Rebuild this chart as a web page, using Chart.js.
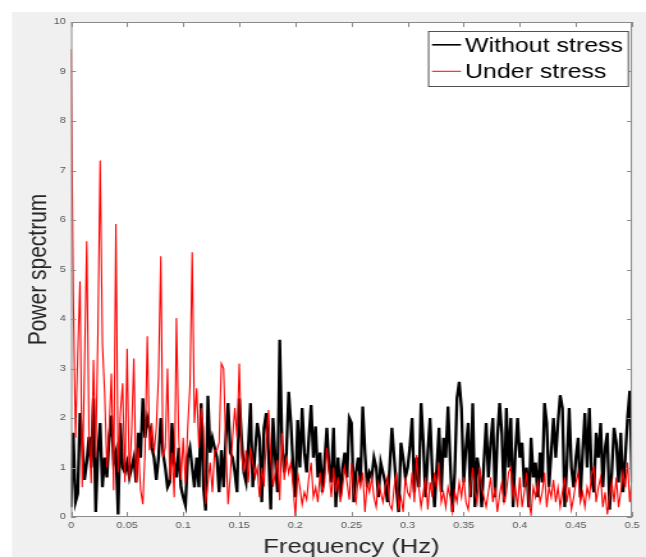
<!DOCTYPE html>
<html><head><meta charset="utf-8">
<script src="https://cdn.jsdelivr.net/npm/chart.js@4/dist/chart.umd.min.js"></script>
<style>
html,body{margin:0;padding:0;background:#fff;overflow:hidden;width:646px;height:557px;}
#wrap{position:absolute;left:0;top:0;width:505px;height:557px;transform:scaleX(1.2792);transform-origin:0 0;}
canvas{display:block;}
</style></head><body>
<div id="wrap"><canvas id="c" width="505" height="557"></canvas></div>
<script>
// ---- data ----
const STEP = 0.002; // Hz between samples
const seriesNames = ['Without stress', 'Under stress'];
const withoutStress = [
  0.2, 1.7, 0.3, 0.47, 2.1, 1.5, 0.75, 1.1, 1.62, 1.0,
  2.4, 0.1, 1.3, 1.9, 0.6, 1.2, 0.8, 1.6, 2.05, 1.1,
  1.3, 0.05, 1.9, 1.0, 0.9, 1.1, 0.8, 1.0, 1.2, 0.7,
  1.7, 1.2, 2.4, 1.6, 2.0, 1.8, 1.4, 1.2, 0.75, 1.2,
  2.0, 1.3, 1.0, 0.6, 0.7, 1.9, 1.1, 0.8, 1.4, 0.6,
  0.4, 0.24, 1.2, 1.4, 1.0, 0.6, 1.2, 0.6, 2.3, 0.6,
  0.13, 2.45, 1.3, 1.6, 1.4, 1.2, 0.5, 1.35, 0.6, 1.6,
  2.3, 1.3, 1.2, 0.9, 0.5, 2.4, 1.6, 0.9, 0.7, 1.4,
  2.3, 0.6, 1.3, 1.9, 1.6, 0.3, 1.8, 2.1, 1.3, 0.15,
  2.0, 1.2, 0.5, 3.58, 1.5, 0.9, 1.3, 2.53, 1.9, 1.0,
  0.4, 1.96, 1.0, 2.2, 1.3, 0.9, 1.6, 2.26, 1.2, 1.83,
  0.8, 1.3, 0.5, 1.1, 1.8, 1.0, 0.7, 1.8, 0.2, 1.2,
  0.4, 1.0, 1.3, 0.8, 2.0, 1.9, 0.3, 0.9, 1.2, 0.7,
  2.23, 1.3, 0.6, 0.9, 0.8, 1.2, 1.0, 0.4, 1.1, 0.9,
  0.7, 0.3, 1.0, 1.8, 1.2, 0.6, 0.1, 1.5, 1.2, 0.8,
  1.0, 1.4, 2.0, 0.5, 1.2, 0.6, 2.3, 1.5, 0.4, 1.3,
  2.0, 0.9, 0.2, 1.0, 1.8, 0.5, 1.6, 1.2, 2.23, 1.1,
  0.1, 0.9, 2.4, 2.73, 2.2, 0.7, 1.4, 1.9, 0.4, 2.3,
  0.2, 1.2, 0.9, 0.2, 1.1, 1.9, 0.8, 1.5, 2.0, 0.4,
  1.6, 2.3, 1.7, 0.3, 2.2, 1.0, 2.0, 0.2, 1.3, 2.0,
  1.2, 1.5, 0.6, 1.0, 0.2, 1.6, 0.8, 1.1, 0.4, 1.3,
  0.7, 2.3, 1.9, 0.6, 1.3, 2.0, 1.2, 1.9, 2.46, 2.2,
  0.2, 1.1, 2.2, 1.0, 0.6, 1.2, 1.6, 0.4, 1.3, 2.1,
  1.0, 2.2, 0.8, 0.5, 1.7, 1.2, 1.9, 0.6, 1.4, 1.7,
  0.15, 0.9, 1.8, 1.5, 0.7, 1.7, 0.5, 1.2, 2.0, 2.55, 0.7
];
const underStress = [
  9.45, 4.5, 1.6, 3.3, 4.76, 0.6, 3.0, 5.57, 1.7, 0.68,
  3.17, 1.2, 3.74, 7.2, 3.5, 2.5, 1.0, 1.76, 2.9, 0.54,
  5.92, 0.9, 2.1, 2.7, 0.7, 3.4, 0.75, 1.7, 3.2, 0.7,
  1.4, 0.55, 0.26, 1.35, 3.65, 1.35, 1.9, 1.3, 1.8, 2.87,
  5.27, 1.2, 1.4, 3.0, 0.75, 1.3, 0.4, 4.02, 1.6, 0.75,
  1.6, 0.68, 1.8, 2.63, 5.35, 1.9, 2.6, 1.4, 2.2, 1.8,
  0.26, 0.7, 1.1, 0.5, 1.35, 1.35, 1.5, 3.1, 3.0, 1.4,
  0.26, 0.85, 1.6, 2.2, 1.6, 3.1, 1.3, 0.9, 1.35, 0.7,
  1.4, 1.1, 0.8, 1.0, 0.4, 1.0, 0.61, 1.55, 2.16, 1.22,
  0.61, 0.88, 1.15, 0.34, 1.69, 0.75, 1.22, 0.88, 1.1, 0.6,
  0.0, 0.9, 0.6, 0.25, 0.5, 0.35, 0.8, 1.1, 0.4, 0.6,
  0.3, 0.9, 0.5, 0.7, 1.4, 0.9, 0.4, 1.0, 0.5, 0.8,
  0.3, 0.6, 1.0, 0.7, 0.35, 1.1, 0.5, 0.3, 0.8, 0.6,
  0.9, 0.1, 0.7, 0.5, 0.8, 0.4, 0.2, 0.7, 0.5, 0.3,
  0.6, 0.8, 0.25, 0.15, 0.6, 0.9, 0.2, 0.4, 0.1, 0.8,
  0.5, 0.4, 0.9, 0.3, 1.25, 0.6, 0.2, 0.5, 0.8, 0.15,
  0.7, 0.4, 0.9, 0.6, 1.1, 0.3, 0.5, 0.2, 0.6, 0.4,
  0.1, 0.5, 0.3, 0.7, 0.4, 0.8, 0.3, 0.15, 0.6, 1.0,
  0.5, 0.3, 1.0, 0.6, 0.4, 0.2, 0.5, 0.8, 0.3, 0.6,
  0.1, 0.45, 0.7, 0.3, 0.5, 0.9, 1.0, 0.4, 0.6, 0.2,
  0.8, 0.2, 0.5, 0.9, 0.3, 0.05, 0.6, 0.4, 0.7, 0.3,
  0.5, 0.9, 0.2, 0.6, 0.4, 0.75, 0.3, 0.6, 0.2, 0.5,
  0.8, 0.3, 0.6, 0.15, 0.4, 0.7, 0.9, 0.3, 0.5, 0.2,
  0.6, 0.4, 0.9, 1.0, 0.3, 0.6, 0.8, 0.2, 0.5, 0.05,
  0.4, 0.7, 0.3, 0.8, 0.2, 0.5, 0.9, 0.6, 1.1, 0.3, 0.8
];
const frequencies = withoutStress.map((_, i) => +(i * STEP).toFixed(3));
const xTickLabels = ['0', '0.05', '0.1', '0.15', '0.2', '0.25', '0.3', '0.35', '0.4', '0.45', '0.5'];
const yTickLabels = ['0', '1', '2', '3', '4', '5', '6', '7', '8', '9', '10'];

// ---- layout ----
const SX = 1.2792;           // horizontal stretch of the reference figure
const W = 505, H = 557;
const FONT = "'Liberation Sans', Arial, sans-serif";

const toPts = arr => arr.map((v, i) => ({x: frequencies[i], y: v}));

const framePlugin = {
  id: 'frame',
  beforeDraw(chart) {
    const {ctx, chartArea: a} = chart;
    ctx.save();
    ctx.fillStyle = '#ffffff';
    ctx.fillRect(0, 0, W, H);
    ctx.fillStyle = '#f0f0f0';
    ctx.fillRect(12 / SX, 12, W, H);
    ctx.fillStyle = '#ffffff';
    ctx.fillRect(a.left, a.top, a.right - a.left, a.bottom - a.top);
    ctx.restore();
  },
  afterDraw(chart) {
    const {ctx, chartArea: a, scales} = chart;
    ctx.save();
    ctx.strokeStyle = '#8a8a8a';
    ctx.lineWidth = 1;
    ctx.strokeRect(a.left + 0.5, a.top + 0.5, a.right - a.left - 1, a.bottom - a.top - 1);
    ctx.beginPath();
    xTickLabels.forEach(l => {
      const px = Math.round(scales.x.getPixelForValue(parseFloat(l))) + 0.5;
      ctx.moveTo(px, a.bottom); ctx.lineTo(px, a.bottom - 5);
      ctx.moveTo(px, a.top); ctx.lineTo(px, a.top + 5);
    });
    yTickLabels.forEach(l => {
      const py = Math.round(scales.y.getPixelForValue(parseFloat(l))) + 0.5;
      ctx.moveTo(a.left, py); ctx.lineTo(a.left + 5 / SX, py);
      ctx.moveTo(a.right, py); ctx.lineTo(a.right - 5 / SX, py);
    });
    ctx.stroke();

    // legend box
    const lx0 = 428 / SX, lx1 = 629 / SX, ly0 = 31, ly1 = 87;
    ctx.fillStyle = '#ffffff';
    ctx.fillRect(lx0, ly0, lx1 - lx0, ly1 - ly0);
    ctx.strokeStyle = '#505050';
    ctx.strokeRect(lx0 + 0.5, ly0 + 0.5, lx1 - lx0 - 1, ly1 - ly0 - 1);
    const rows = [
      {text: seriesNames[0], color: chart.data.datasets[0].borderColor, lw: 1.6, y: 44.8, base: 51.7},
      {text: seriesNames[1], color: chart.data.datasets[1].borderColor, lw: 1.0, y: 71.3, base: 78}
    ];
    ctx.font = `19.5px ${FONT}`;
    ctx.textBaseline = 'alphabetic';
    ctx.textAlign = 'left';
    rows.forEach(r => {
      ctx.strokeStyle = r.color;
      ctx.lineWidth = r.lw;
      ctx.beginPath();
      ctx.moveTo(432 / SX, r.y); ctx.lineTo(461 / SX, r.y);
      ctx.stroke();
      ctx.fillStyle = '#000000';
      ctx.fillText(r.text, 465 / SX, r.base);
    });
    ctx.restore();
  }
};

new Chart(document.getElementById('c'), {
  type: 'line',
  data: {
    datasets: [
      {label: seriesNames[0], data: toPts(withoutStress), borderColor: '#000000', borderWidth: 2.3,
       pointRadius: 0, tension: 0, fill: false, order: 2},
      {label: seriesNames[1], data: toPts(underStress), borderColor: '#ff0000', borderWidth: 1.1,
       pointRadius: 0, tension: 0, fill: false, order: 1}
    ]
  },
  options: {
    responsive: false,
    animation: false,
    devicePixelRatio: 1,
    layout: {padding: {top: 22, right: W - 632 / SX, left: 0, bottom: 0}},
    plugins: {legend: {display: false}, tooltip: {enabled: false}},
    scales: {
      x: {
        type: 'linear', min: 0, max: 0.5,
        afterFit(s) { s.height = 40; },
        afterBuildTicks(s) { s.ticks = xTickLabels.map(l => ({value: parseFloat(l)})); },
        ticks: {autoSkip: false, maxRotation: 0, padding: 4, color: '#555555',
                font: {family: FONT, size: 8.5}, callback: (v, i) => xTickLabels[i]},
        grid: {display: false, drawTicks: false},
        border: {display: false},
        title: {display: true, text: 'Frequency (Hz)', color: '#262626',
                font: {family: FONT, size: 20, lineHeight: 1}, padding: {top: 0, bottom: 0}}
      },
      y: {
        min: 0, max: 10,
        afterFit(s) { s.width = 71 / SX; },
        afterBuildTicks(s) { s.ticks = yTickLabels.map(l => ({value: parseFloat(l)})); },
        ticks: {autoSkip: false, padding: 4, color: '#555555',
                font: {family: FONT, size: 8.5}, callback: (v, i) => yTickLabels[i]},
        grid: {display: false, drawTicks: false},
        border: {display: false},
        title: {display: true, text: 'Power spectrum', color: '#262626',
                font: {family: FONT, size: 21, lineHeight: 1}, padding: {top: 19.5, bottom: 0}}
      }
    }
  },
  plugins: [framePlugin]
});
</script>
</body></html>
